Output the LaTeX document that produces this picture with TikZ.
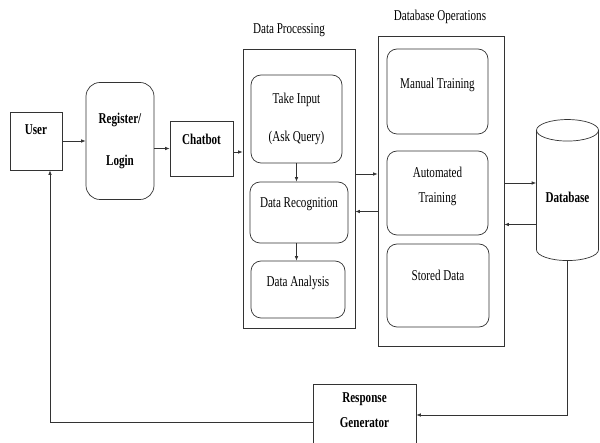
\documentclass[tikz,border=0pt]{standalone}
\usepackage{fontspec}
\setmainfont[FakeStretch=0.74]{Liberation Serif}
\usetikzlibrary{arrows.meta,positioning,shapes.geometric}

\begin{document}
\begin{tikzpicture}[x=1pt,y=-1pt,>={Latex[length=4.5pt,width=3.5pt]},
  blk/.style={draw=black!80,line width=0.7pt,align=center,font=\fontsize{15}{17}\selectfont,inner sep=2pt},
  rblk/.style={blk,rounded corners=10pt},
  lnk/.style={draw=black!80,line width=0.7pt}]
\useasboundingbox (0,0) rectangle (600,443);
\fill[white] (0,0) rectangle (600,443);
\node[blk,minimum width=52pt,minimum height=58pt,font=\fontsize{15}{17}\selectfont\bfseries] (user) at (36,141) {User\\[5pt]};
\node[rblk,rounded corners=14pt,minimum width=68pt,minimum height=117pt,font=\fontsize{15}{17}\selectfont\bfseries] (reg) at (120,141) {Register/\\[25pt]Login};
\node[blk,minimum width=63pt,minimum height=55pt,font=\fontsize{15}{17}\selectfont\bfseries] (chat) at (201.5,148.5) {Chatbot\\[2pt]};
\node[blk,minimum width=112pt,minimum height=279pt] (dp) at (299,188.5) {};
\node[font=\fontsize{15}{17}\selectfont] (dptitle) at (289,30) {Data Processing};
\node[rblk,minimum width=91pt,minimum height=88pt] (take) at (296.5,119) {Take Input\\[21pt](Ask Query)};
\node[rblk,minimum width=98pt,minimum height=61pt] (recog) at (299,212.5) {Data Recognition\\[3pt]};
\node[rblk,minimum width=94pt,minimum height=57pt] (anal) at (298,289.5) {Data Analysis\\[0pt]};
\node[blk,minimum width=126pt,minimum height=310pt] (do) at (441,191) {};
\node[font=\fontsize{15}{17}\selectfont] (dotitle) at (440,17) {Database Operations};
\node[rblk,minimum width=101pt,minimum height=85pt] (manual) at (437.5,91.5) {Manual Training\\[0pt]};
\node[rblk,minimum width=101pt,minimum height=84pt] (auto) at (437.5,193) {Automated\\[8pt]Training\\[0pt]};
\node[rblk,minimum width=102pt,minimum height=83pt] (stored) at (438,285.5) {Stored Data\\[3pt]};
\node[blk,shape=cylinder,shape border rotate=90,aspect=0.45,minimum width=62pt,minimum height=141pt,font=\fontsize{15}{17}\selectfont\bfseries] (db) at (567.5,197.5) {Database};
\node[blk,minimum width=103pt,minimum height=76pt,font=\fontsize{15}{17}\selectfont\bfseries] (resp) at (364.5,422) {Response\\[8pt]Generator\\[6pt]};
\draw[lnk,->] (user.east) -- (reg.west);
\draw[lnk,->] (reg.east |- chat.west) -- (chat.west);
\draw[lnk,->] ([yshift=-3.5pt]chat.east) -- ([yshift=-3.5pt]chat.east -| dp.west);
\draw[lnk,->] (take.south) -- (take.south |- recog.north);
\draw[lnk,->] (recog.south -| take.south) -- (take.south |- anal.north);
\draw[lnk,->] ([yshift=14.5pt]dp.east) -- ([yshift=14.5pt]dp.east -| do.west);
\draw[lnk,->] ([yshift=-20.5pt]do.west) -- ([yshift=-20.5pt]do.west -| dp.east);
\draw[lnk,->] ([yshift=8pt]do.east) -- ([yshift=8pt]do.east -| db.west);
\draw[lnk,->] ([yshift=-27pt]db.west) -- ([yshift=-27pt]db.west -| do.east);
\draw[lnk,->] (db.south) |- ([yshift=7pt]resp.east);
\draw[lnk,->] (resp.west) -| ([xshift=14pt]user.south);
\end{tikzpicture}
\end{document}
